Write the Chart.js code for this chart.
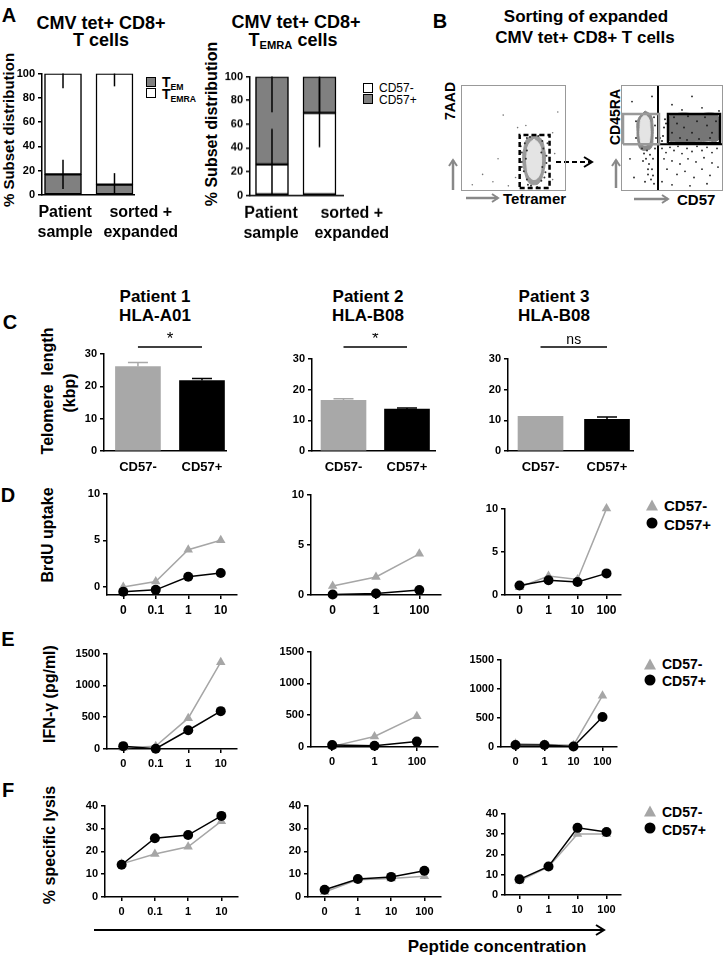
<!DOCTYPE html>
<html>
<head>
<meta charset="utf-8">
<script src="https://cdn.jsdelivr.net/npm/chart.js@4.4.1/dist/chart.umd.min.js"></script>
<style>
html, body { margin: 0; padding: 0; background: #fff; }
#fig { position: relative; width: 727px; height: 959px; overflow: hidden; font-family: "Liberation Sans", Arial, sans-serif; color: #000; }
.t { position: absolute; white-space: nowrap; transform: translate(-50%, -50%); font-weight: bold; line-height: 1; }
.tl { position: absolute; white-space: nowrap; transform: translate(0, -50%); font-weight: bold; line-height: 1; }
.rot { transform: translate(-50%, -50%) rotate(-90deg); }
.sq { position: absolute; width: 8px; height: 8px; border: 1.5px solid #000; }
.tri { position: absolute; width: 0; height: 0; border-left: 6px solid transparent; border-right: 6px solid transparent; border-bottom: 11px solid #a6a6a6; transform: translate(-50%, -50%); }
.dot { position: absolute; width: 11px; height: 11px; border-radius: 50%; background: #000; transform: translate(-50%, -50%); }
sub { font-size: 0.62em; vertical-align: -0.3em; line-height: 0; }
.box { position: absolute; }
svg { position: absolute; left: 0; top: 0; }
</style>
</head>
<body>
<div id="fig">
  <!-- panel A -->
  <div class="t" style="left:9px;top:15px;font-size:20px">A</div>
  <div class="t" style="left:101px;top:23px;font-size:18px">CMV tet+ CD8+</div>
  <div class="t" style="left:101px;top:40px;font-size:18px">T cells</div>
  <div class="t" style="left:296px;top:22px;font-size:18px">CMV tet+ CD8+</div>
  <div class="t" style="left:293px;top:40px;font-size:18px">T<sub>EMRA</sub> cells</div>
  <div class="t rot" style="left:8px;top:130px;font-size:15px">% Subset distribution</div>
  <div class="t rot" style="left:212px;top:124px;font-size:16px">% Subset distribution</div>
  <div class="sq" style="left:146px;top:77px;background:#808080"></div>
  <div class="sq" style="left:146px;top:88px;background:#fff"></div>
  <div class="tl" style="left:162px;top:82px;font-size:14px">T<sub>EM</sub></div>
  <div class="tl" style="left:162px;top:94px;font-size:14px">T<sub>EMRA</sub></div>
  <div class="sq" style="left:363px;top:83px;background:#fff"></div>
  <div class="sq" style="left:363px;top:94px;background:#808080"></div>
  <div class="tl" style="left:379px;top:88px;font-size:12px;font-weight:normal">CD57-</div>
  <div class="tl" style="left:379px;top:100px;font-size:12px;font-weight:normal">CD57+</div>

  <!-- panel B -->
  <div class="t" style="left:440px;top:21px;font-size:20px">B</div>
  <div class="t" style="left:586px;top:16px;font-size:17px">Sorting of expanded</div>
  <div class="t" style="left:585px;top:37px;font-size:17px">CMV tet+ CD8+ T cells</div>
  <div class="t rot" style="left:450px;top:101px;font-size:14px">7AAD</div>
  <div class="t rot" style="left:615px;top:117px;font-size:14px">CD45RA</div>
  <div class="tl" style="left:503px;top:198px;font-size:15px">Tetramer</div>
  <div class="tl" style="left:677px;top:199px;font-size:15px">CD57</div>

  <!-- panel C -->
  <div class="t" style="left:10px;top:322px;font-size:20px">C</div>
  <div class="t" style="left:155px;top:296px;font-size:17px">Patient 1</div>
  <div class="t" style="left:155px;top:315px;font-size:17px">HLA-A01</div>
  <div class="t" style="left:368px;top:296px;font-size:17px">Patient 2</div>
  <div class="t" style="left:368px;top:315px;font-size:17px">HLA-B08</div>
  <div class="t" style="left:554px;top:296px;font-size:17px">Patient 3</div>
  <div class="t" style="left:554px;top:315px;font-size:17px">HLA-B08</div>
  <div class="t rot" style="left:48px;top:391px;font-size:16px">Telomere&nbsp; length</div>
  <div class="t rot" style="left:70px;top:393px;font-size:16px">(kbp)</div>

  <!-- panel D -->
  <div class="t" style="left:8px;top:495px;font-size:20px">D</div>
  <div class="t rot" style="left:48px;top:535px;font-size:16px">BrdU uptake</div>
  <div class="tri" style="left:652px;top:505px"></div>
  <div class="dot" style="left:652px;top:523px"></div>
  <div class="tl" style="left:664px;top:505px;font-size:15px">CD57-</div>
  <div class="tl" style="left:664px;top:524px;font-size:15px">CD57+</div>

  <!-- panel E -->
  <div class="t" style="left:8px;top:639px;font-size:20px">E</div>
  <div class="t rot" style="left:50px;top:694px;font-size:16px">IFN-γ (pg/ml)</div>
  <div class="tri" style="left:650px;top:664px"></div>
  <div class="dot" style="left:650px;top:680px"></div>
  <div class="tl" style="left:662px;top:664px;font-size:14px">CD57-</div>
  <div class="tl" style="left:662px;top:681px;font-size:14px">CD57+</div>

  <!-- panel F -->
  <div class="t" style="left:8px;top:790px;font-size:20px">F</div>
  <div class="t rot" style="left:50px;top:845px;font-size:16px">% specific lysis</div>
  <div class="tri" style="left:650px;top:811px"></div>
  <div class="dot" style="left:650px;top:828px"></div>
  <div class="tl" style="left:662px;top:812px;font-size:14px">CD57-</div>
  <div class="tl" style="left:662px;top:830px;font-size:14px">CD57+</div>

  <div class="t" style="left:497px;top:946px;font-size:17px">Peptide concentration</div>

  <svg width="727" height="959">
    <defs>
      <marker id="hg" markerWidth="10" markerHeight="10" refX="7" refY="5" orient="auto" markerUnits="userSpaceOnUse">
        <path d="M1,1 L7,5 L1,9" fill="none" stroke="#888" stroke-width="2"/>
      </marker>
      <marker id="hk" markerWidth="12" markerHeight="12" refX="9" refY="6" orient="auto" markerUnits="userSpaceOnUse">
        <path d="M1,1 L9,6 L1,11" fill="none" stroke="#000" stroke-width="2"/>
      </marker>
    </defs>
    <line x1="453" y1="190" x2="453" y2="160" stroke="#888" stroke-width="2.5" marker-end="url(#hg)"/>
    <line x1="466" y1="198" x2="498" y2="198" stroke="#888" stroke-width="2.5" marker-end="url(#hg)"/>
    <line x1="616" y1="188" x2="616" y2="160" stroke="#888" stroke-width="2.5" marker-end="url(#hg)"/>
    <line x1="634" y1="199" x2="668" y2="199" stroke="#888" stroke-width="2.5" marker-end="url(#hg)"/>
    <line x1="556" y1="162" x2="592" y2="162" stroke="#000" stroke-width="2" stroke-dasharray="5,3" marker-end="url(#hk)"/>
    <line x1="94" y1="930" x2="604" y2="930" stroke="#000" stroke-width="2" marker-end="url(#hk)"/>
  </svg>
</div>

<script>
// ---------- A: subset distribution (%) ----------
const subsetCats = [['Patient', 'sample'], ['sorted +', 'expanded']];
const temMean = [17, 8.5];
const temSd = [12, 9.5];
const temraSd = [12, 10.5];
const cd57negMean = [26, 69.5];
const cd57negSd = [30, 29];
const cd57posSd = [30, 30];

// ---------- B: flow plots (arbitrary 0-100 units) ----------
const tetGate = [[56, 2], [85, 2], [85, 53], [56, 53], [56, 2]];
const tetOuter = [[70, 53], [77, 49], [80, 40], [81, 29], [79, 16], [75, 7], [70, 5], [65, 7], [61, 16], [59, 29],
  [60, 40], [63, 49], [70, 53]];
const tetInner = [[70, 49], [75, 44], [77, 34], [77, 24], [75, 14], [70, 10], [65, 14], [63, 24], [63, 34], [65, 44],
  [70, 49]];
const tetSpeck = [[79, 40], [78, 47], [74, 52], [66, 51], [61, 45], [58, 36], [58, 27], [60, 18], [63, 10], [67, 4],
  [73, 3], [77, 9], [81, 17], [82, 26], [82, 33], [76, 53], [63, 50], [58, 22], [64, 5], [80, 12], [83, 45], [57, 42],
  [62, 30], [78, 22], [77, 36], [63, 38]];
const tetSparse = [[30, 8], [45, 4], [52, 12], [88, 10], [90, 35], [54, 60], [40, 72], [20, 15], [88, 55], [62, 62],
  [10, 5], [35, 30], [93, 75]];

const cdQuadV = [[36, 0], [36, 100]];
const cdQuadH = [[36, 44], [100, 44]];
const cdNegGate = [[1, 44], [37, 44], [37, 73], [1, 73], [1, 44]];
const cdPosGate = [[46, 45], [98, 45], [98, 73], [46, 73], [46, 45]];
const cdNegOuter = [[23, 76], [29, 72], [31, 62], [31, 50], [30, 42], [27, 39], [19, 39], [16, 46], [15, 56], [16, 68],
  [23, 76]];
const cdNegInner = [[23, 73], [27, 68], [28, 60], [28, 51], [26, 44], [20, 44], [18, 51], [18, 60], [19, 68], [23, 73]];
const cdPosCloud = [[48, 72], [60, 74], [75, 73], [90, 74], [96, 71], [97, 60], [96, 48], [85, 47], [70, 46], [55, 46],
  [47, 48], [46, 60], [48, 72]];
const cdTail = [[20, 40], [25, 38], [28, 34], [24, 30], [27, 25], [30, 20], [26, 15], [29, 10], [32, 6], [31, 30],
  [33, 40], [22, 35], [34, 50], [33, 62], [14, 50], [21, 28], [26, 20], [31, 14], [23, 8], [14, 66], [32, 70]];
const cdSpeck = [[42, 60], [41, 52], [43, 68], [40, 47], [44, 64], [52, 70], [66, 71], [83, 70], [94, 66], [58, 50],
  [77, 49], [90, 55], [62, 60], [70, 55], [85, 62], [55, 64], [75, 66], [88, 50], [65, 48], [50, 55]];
const cdLower = [[40, 40], [44, 36], [48, 41], [52, 38], [56, 42], [60, 35], [65, 40], [70, 37], [75, 42], [80, 38],
  [85, 41], [90, 36], [95, 40], [42, 30], [50, 28], [58, 25], [66, 30], [74, 27], [82, 31], [90, 26], [45, 20],
  [55, 15], [63, 18], [72, 12], [80, 20], [88, 14], [96, 22], [40, 8], [50, 5], [68, 4], [85, 6], [38, 50],
  [98, 48], [97, 76], [60, 77], [80, 79], [50, 82], [70, 90], [30, 90], [10, 85], [8, 30], [12, 12]];

// ---------- C: telomere length (kbp) ----------
const telCats = ['CD57-', 'CD57+'];
const telP1 = [26.1, 21.8], telErrP1 = [1.3, 0.6];
const telP2 = [16.5, 13.7], telErrP2 = [0.5, 0.3];
const telP3 = [11.3, 10.3], telErrP3 = [0, 0.8];
const sigMarks = ['*', '*', 'ns'];

// ---------- D-F: peptide dose responses ----------
const dosesP1 = ['0', '0.1', '1', '10'];
const dosesP2 = ['0', '1', '100'];
const dosesP2Lysis = ['0', '1', '10', '100'];
const dosesP3 = ['0', '1', '10', '100'];

const brduNegP1 = [0, 0.6, 4.0, 5.0], brduPosP1 = [-0.5, -0.3, 1.1, 1.5];
const brduNegP2 = [0.9, 1.8, 4.1], brduPosP2 = [0.05, 0.15, 0.5];
const brduNegP3 = [0.9, 2.2, 1.8, 10], brduPosP3 = [1.1, 1.7, 1.5, 2.5];

const ifnNegP1 = [20, 45, 485, 1365], ifnPosP1 = [45, 5, 295, 595];
const ifnNegP2 = [10, 165, 485], ifnPosP2 = [30, 20, 85];
const ifnNegP3 = [55, 45, 30, 880], ifnPosP3 = [35, 35, 10, 515];

const lysNegP1 = [14.5, 18.8, 22, 33.2], lysPosP1 = [14.1, 25.7, 27.1, 35.5];
const lysNegP2 = [2.2, 7.6, 8.1, 9.1], lysPosP2 = [3.2, 7.9, 8.8, 11.5];
const lysNegP3 = [7, 13.8, 30, 30], lysPosP3 = [7.7, 14, 33, 31];

// ---------- styling ----------
const GRAY = '#a6a6a6';
const BARGRAY = '#a8a8a8';
const SEG = '#808080';

Chart.defaults.font.family = '"Liberation Sans", Arial, sans-serif';
Chart.defaults.font.weight = 'bold';
Chart.defaults.color = '#000';
Chart.defaults.animation = false;
Chart.defaults.plugins.legend.display = false;
Chart.defaults.plugins.tooltip.enabled = false;

// 에러바: 스케일 좌표로 세로선 (+캡)
const errorBars = {
  id: 'errorBars',
  afterDatasetsDraw(chart, args, opts) {
    if (!opts.items) return;
    const ctx = chart.ctx, xs = chart.scales.x, ys = chart.scales.y;
    ctx.save();
    ctx.lineWidth = 1.5;
    opts.items.forEach(it => {
      if (it.from === it.to) return;
      const px = xs.getPixelForValue(it.x);
      const y1 = ys.getPixelForValue(it.from), y2 = ys.getPixelForValue(it.to);
      ctx.strokeStyle = it.color || '#000';
      ctx.beginPath();
      ctx.moveTo(px, y1);
      ctx.lineTo(px, y2);
      if (opts.cap) { ctx.moveTo(px - opts.cap, y2); ctx.lineTo(px + opts.cap, y2); }
      ctx.stroke();
    });
    ctx.restore();
  }
};

// 유의성 표시 텍스트 (* / ns)
const sigMark = {
  id: 'sigMark',
  afterDatasetsDraw(chart, args, opts) {
    if (!opts.text) return;
    const ctx = chart.ctx;
    const px = chart.scales.x.getPixelForValue(opts.x);
    const py = chart.scales.y.getPixelForValue(opts.y);
    ctx.save();
    ctx.font = opts.font;
    ctx.fillStyle = '#000';
    ctx.textAlign = 'center';
    ctx.textBaseline = 'alphabetic';
    ctx.fillText(opts.text, px, py - 3);
    ctx.restore();
  }
};
Chart.register(errorBars, sigMark);

// box = plot area [x0, y0, x1, y1] in page px, pad = [top, right, bottom, left]
function panel(box, pad, config) {
  const [x0, y0, x1, y1] = box;
  const wrap = document.createElement('div');
  wrap.className = 'box';
  Object.assign(wrap.style, {
    left: (x0 - pad[3]) + 'px', top: (y0 - pad[0]) + 'px',
    width: (x1 - x0 + pad[1] + pad[3]) + 'px', height: (y1 - y0 + pad[0] + pad[2]) + 'px'
  });
  if (config.frame) wrap.style.outline = '1px solid #999';
  const cv = document.createElement('canvas');
  wrap.appendChild(cv);
  document.getElementById('fig').appendChild(wrap);
  const o = config.options;
  o.responsive = true;
  o.maintainAspectRatio = false;
  o.layout = { autoPadding: false, padding: { top: pad[0], right: pad[1], bottom: 0, left: 0 } };
  if (o.scales.x.display !== false) o.scales.x.afterFit = s => { s.height = pad[2]; };
  if (o.scales.y.display !== false) o.scales.y.afterFit = s => { s.width = pad[3]; };
  return new Chart(cv, config);
}

function yAxis(min, max, step, size, ticksAt) {
  const ax = {
    min, max,
    ticks: { stepSize: step, font: { size }, padding: 3, callback: v => String(v) },
    grid: { drawOnChartArea: false, tickLength: 4, color: '#000', lineWidth: 1.5 },
    border: { color: '#000', width: 1.5 }
  };
  if (ticksAt) ax.afterBuildTicks = s => { s.ticks = ticksAt.map(v => ({ value: v })); };
  return ax;
}

function xCat(size) {
  return {
    type: 'category', offset: true,
    ticks: { font: { size }, padding: 4, autoSkip: false, maxRotation: 0 },
    grid: { drawOnChartArea: false, offset: false, tickLength: 4, color: '#000', lineWidth: 1.5 },
    border: { color: '#000', width: 1.5 }
  };
}

function xBars(range, tickAt, labels, size, lineHeight, padding) {
  return {
    type: 'linear', min: range[0], max: range[1], offset: false,
    afterBuildTicks: s => { s.ticks = tickAt.map(v => ({ value: v })); },
    ticks: { callback: (v, i) => labels[i], autoSkip: false, maxRotation: 0, padding, font: { size, lineHeight } },
    grid: { display: false, drawTicks: false },
    border: { display: true, color: '#000', width: 1.5 }
  };
}

// ---------- A ----------
function subsetChart(box, range, labelAt, lower, lowerSd, upperSd, lowerColor, upperColor, barW) {
  const xs = [0, 1];
  const seg = (data, color) => ({
    data, backgroundColor: color, borderColor: '#000', borderWidth: 1.5,
    borderSkipped: false, barThickness: barW, grouped: false
  });
  return panel(box, [6, 60, 50, 36], {
    type: 'bar',
    data: {
      datasets: [
        seg(xs.map((x, i) => ({ x, y: [0, lower[i]] })), lowerColor),
        seg(xs.map((x, i) => ({ x, y: [lower[i], 100] })), upperColor)
      ]
    },
    options: {
      plugins: {
        errorBars: {
          items: xs.flatMap((x, i) => [
            { x, from: Math.max(0, lower[i] - lowerSd[i]), to: Math.min(100, lower[i] + lowerSd[i]) },
            { x, from: 100 - upperSd[i], to: 100 }
          ])
        }
      },
      scales: {
        x: xBars(range, labelAt, subsetCats, 16, 1.25, 8),
        y: yAxis(0, 100, 20, 11)
      }
    }
  });
}
subsetChart([42, 70, 134, 195], [-0.408, 1.379], [0.04, 1.51], temMean, temSd, temraSd, SEG, '#fff', 37);
subsetChart([250, 73, 343, 194.5], [-0.463, 1.495], [-0.02, 1.68], cd57negMean, cd57negSd, cd57posSd, '#fff', SEG, 33);

// ---------- B ----------
const pts = a => a.map(([x, y]) => ({ x, y }));
const dots = (a, color, r) => ({ data: pts(a), pointRadius: r, backgroundColor: color, pointBorderWidth: 0, borderWidth: 0 });
const gate = (a, color, w, dash) => ({
  data: pts(a), showLine: true, borderColor: color, borderWidth: w, borderDash: dash || [],
  pointRadius: 0, clip: false, tension: 0
});
const blob = (a, color) => ({
  data: pts(a), showLine: true, fill: 'shape', backgroundColor: color, borderColor: color,
  borderWidth: 1, pointRadius: 0, tension: 0.45
});
function flowChart(box, layers) {
  return panel(box, [0, 0, 0, 0], {
    type: 'scatter',
    frame: true,
    data: { datasets: layers },
    options: { scales: { x: { display: false, min: 0, max: 100 }, y: { display: false, min: 0, max: 100 } } }
  });
}
flowChart([462, 86, 565, 190], [
  gate(tetGate, '#000', 2.5, [5, 3]),
  dots(tetSpeck, '#333', 1),
  dots(tetSparse, '#777', 0.8),
  blob(tetInner, '#e4e4e4'),
  blob(tetOuter, '#9a9a9a')
]);
flowChart([622, 86, 722, 190], [
  gate(cdPosGate, '#000', 2.5),
  gate(cdNegGate, '#999', 2.5),
  gate(cdQuadV, '#000', 2),
  gate(cdQuadH, '#000', 2),
  dots(cdTail, '#333', 1),
  dots(cdSpeck, '#222', 1),
  dots(cdLower, '#222', 0.9),
  blob(cdNegInner, '#e4e4e4'),
  blob(cdNegOuter, '#8a8a8a'),
  blob(cdPosCloud, '#767676')
]);

// ---------- C ----------
function telChart(box, range, vals, errs, sigY, mark) {
  return panel(box, [26, 12, 32, 34], {
    type: 'bar',
    data: {
      datasets: [
        {
          type: 'line', data: [{ x: 0, y: sigY }, { x: 1, y: sigY }], borderColor: '#000', borderWidth: 1.5,
          pointStyle: 'line', rotation: 90, pointRadius: 5, pointBorderColor: '#000', pointBorderWidth: 1.5, clip: false
        },
        { data: vals.map((v, i) => ({ x: i, y: v })), backgroundColor: [BARGRAY, '#000'], barThickness: 45 }
      ]
    },
    options: {
      plugins: {
        errorBars: { cap: 10, items: vals.map((v, i) => ({ x: i, from: v, to: v + errs[i], color: i ? '#000' : BARGRAY })) },
        sigMark: { text: mark, x: 0.5, y: sigY, font: mark === '*' ? '17px "Liberation Sans"' : '14px "Liberation Sans"' }
      },
      scales: {
        x: xBars(range, [0, 1], telCats, 13, 1.2, 9),
        y: yAxis(0, 30, 10, 11)
      }
    }
  });
}
telChart([104, 354, 226, 451], [-0.53, 1.375], telP1, telErrP1, 32.2, sigMarks[0]);
telChart([312, 359, 435, 451], [-0.496, 1.441], telP2, telErrP2, 33.9, sigMarks[1]);
telChart([508, 359, 633, 451], [-0.489, 1.391], telP3, telErrP3, 33.9, sigMarks[2]);

// ---------- D-F ----------
function series(values, color, shape, r) {
  return {
    data: values, borderColor: color, backgroundColor: color, pointBackgroundColor: color,
    pointBorderColor: color, borderWidth: 1.5, pointStyle: shape, pointRadius: r, pointBorderWidth: 0, clip: false
  };
}
function doseChart(box, doses, neg, pos, y, labelSize) {
  return panel(box, [8, 10, 26, 34], {
    type: 'line',
    data: { labels: doses, datasets: [series(pos, '#000', 'circle', 5), series(neg, GRAY, 'triangle', 5.5)] },
    options: { scales: { x: xCat(labelSize), y } }
  });
}
doseChart([107, 492, 237, 595], dosesP1, brduNegP1, brduPosP1, yAxis(-0.85, 10, 5, 11, [0, 5, 10]), 12);
doseChart([311, 493, 441, 595], dosesP2, brduNegP2, brduPosP2, yAxis(0, 10, 5, 11), 12);
doseChart([505, 507, 621, 595], dosesP3, brduNegP3, brduPosP3, yAxis(0, 10, 5, 11), 12);

doseChart([107, 652, 237, 749], dosesP1, ifnNegP1, ifnPosP1, yAxis(0, 1500, 500, 11), 11);
doseChart([311, 650, 438, 747], dosesP2, ifnNegP2, ifnPosP2, yAxis(0, 1500, 500, 11), 11);
doseChart([501, 658, 617, 747], dosesP3, ifnNegP3, ifnPosP3, yAxis(0, 1500, 500, 11), 11);

doseChart([105, 804, 238, 897], dosesP1, lysNegP1, lysPosP1, yAxis(0, 40, 10, 11), 11);
doseChart([308, 804, 441, 897], dosesP2Lysis, lysNegP2, lysPosP2, yAxis(0, 40, 10, 11), 11);
doseChart([505, 812, 621, 895], dosesP3, lysNegP3, lysPosP3, yAxis(0, 40, 10, 11), 11);
</script>
</body>
</html>
